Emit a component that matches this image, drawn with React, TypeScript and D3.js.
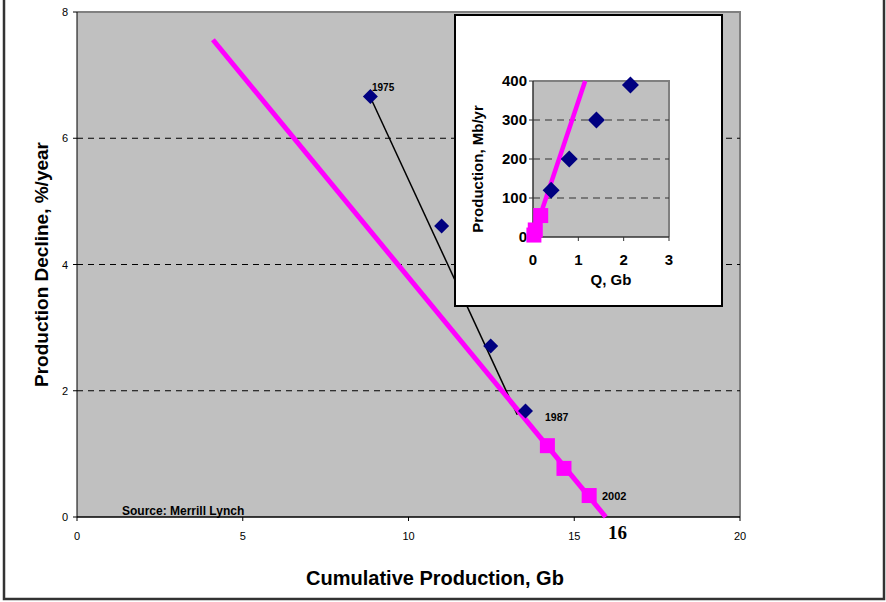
import React from 'react';
import * as d3 from 'd3';

// main chart: cumulative production (Gb) vs production decline (%/year)
const xTicks = [0, 5, 10, 15, 20];
const yTicks = [0, 2, 4, 6, 8];
const yGrid = [2, 4, 6];

const histQ = [8.85, 11.0, 12.48, 13.53];
const histDecline = [6.66, 4.61, 2.71, 1.68];
const recentQ = [14.19, 14.69, 15.45];
const recentDecline = [1.13, 0.77, 0.34];
const fitQ = [4.1, 15.95];
const fitDecline = [7.56, 0];
const trendQ = [8.85, 13.28];
const trendDecline = [6.65, 1.62];

// inset: Q (Gb) vs production (Mb/yr)
const insetXTicks = [0, 1, 2, 3];
const insetYTicks = [0, 100, 200, 300, 400];
const insetGrid = [100, 200, 300];
const insetQ = [0.4, 0.8, 1.4, 2.15];
const insetProd = [120, 200, 300, 390];
const insetSqQ = [0.02, 0.05, 0.17];
const insetSqProd = [5, 18, 55];
const insetFitQ = [0, 1.15];
const insetFitProd = [0, 400];

const NAVY = '#000080';
const MAGENTA = '#FF00FF';
const PLOT_BG = '#C0C0C0';
const FONT = '"Liberation Sans", Arial, sans-serif';

const diamond = (cx: number, cy: number, r: number) =>
  `M${cx},${cy - r}L${cx + r},${cy}L${cx},${cy + r}L${cx - r},${cy}Z`;

export default function App() {
  const width = 886;
  const height = 602;

  const x = d3.scaleLinear().domain([0, 20]).range([77, 740]);
  const y = d3.scaleLinear().domain([0, 8]).range([517, 12]);

  const ix = d3.scaleLinear().domain([0, 3]).range([533, 669]);
  const iy = d3.scaleLinear().domain([0, 400]).range([237, 81]);

  const mainLine = d3.line<[number, number]>().x(d => x(d[0])).y(d => y(d[1]));
  const insetLine = d3.line<[number, number]>().x(d => ix(d[0])).y(d => iy(d[1]));

  const fitPts = fitQ.map((q, i) => [q, fitDecline[i]] as [number, number]);
  const trendPts = trendQ.map((q, i) => [q, trendDecline[i]] as [number, number]);
  const insetFitPts = insetFitQ.map((q, i) => [q, insetFitProd[i]] as [number, number]);

  return (
    <svg
      width={width}
      height={height}
      style={{ position: 'absolute', left: 0, top: 0, background: '#fff' }}
      fontFamily={FONT}
    >
      {/* outer frame */}
      <rect x={4} y={-4} width={880} height={603} fill="#fff" stroke="#333" strokeWidth={2.5} />

      {/* main plot area */}
      <rect x={x(0)} y={y(8)} width={x(20) - x(0)} height={y(0) - y(8)} fill={PLOT_BG} />
      <path
        d={`M${x(0)},${y(8)}H${x(20)}V${y(0)}`}
        fill="none"
        stroke="#808080"
        strokeWidth={2}
      />
      {yGrid.map(v => (
        <line
          key={v}
          x1={x(0)}
          x2={x(20)}
          y1={y(v)}
          y2={y(v)}
          stroke="#000"
          strokeWidth={1}
          strokeDasharray="6,5"
        />
      ))}

      {/* axes */}
      <line x1={x(0)} x2={x(0)} y1={y(0)} y2={y(8)} stroke="#000" />
      <line x1={x(0)} x2={x(20)} y1={y(0)} y2={y(0)} stroke="#000" strokeWidth={1.5} />
      {yTicks.map(v => (
        <g key={v}>
          <line x1={x(0) - 4} x2={x(0)} y1={y(v)} y2={y(v)} stroke="#000" />
          <text x={x(0) - 9} y={y(v) + 4} fontSize={11} textAnchor="end">{v}</text>
        </g>
      ))}
      {xTicks.map(v => (
        <g key={v}>
          <line x1={x(v)} x2={x(v)} y1={y(0)} y2={y(0) + 4} stroke="#000" />
          <text x={x(v)} y={540} fontSize={11} textAnchor="middle">{v}</text>
        </g>
      ))}

      {/* trend lines */}
      <path d={mainLine(trendPts) || ''} fill="none" stroke="#000" strokeWidth={1.5} />
      <path d={mainLine(fitPts) || ''} fill="none" stroke={MAGENTA} strokeWidth={5} />

      {/* data points */}
      {histQ.map((q, i) => (
        <path key={q} d={diamond(x(q), y(histDecline[i]), 7.5)} fill={NAVY} />
      ))}
      {recentQ.map((q, i) => (
        <rect
          key={q}
          x={x(q) - 7.5}
          y={y(recentDecline[i]) - 7.5}
          width={15}
          height={15}
          fill={MAGENTA}
        />
      ))}

      {/* annotations */}
      <text x={372} y={91} fontSize={10} fontWeight="bold">1975</text>
      <text x={545} y={421} fontSize={10.5} fontWeight="bold">1987</text>
      <text x={602} y={500} fontSize={11} fontWeight="bold">2002</text>
      <text x={122} y={515} fontSize={12} fontWeight="bold">Source: Merrill Lynch</text>
      <text
        x={608}
        y={539}
        fontSize={19}
        fontWeight="bold"
        fontFamily='"Liberation Serif", "Times New Roman", serif'
      >
        16
      </text>

      {/* axis titles */}
      <text x={435} y={585} fontSize={20} fontWeight="bold" textAnchor="middle">
        Cumulative Production, Gb
      </text>
      <text
        transform={`translate(48,${(y(0) + y(8)) / 2}) rotate(-90)`}
        fontSize={19}
        fontWeight="bold"
        textAnchor="middle"
      >
        Production Decline, %/year
      </text>

      {/* inset chart */}
      <rect x={455} y={15} width={267} height={291} fill="#fff" stroke="#000" strokeWidth={2} />
      <rect x={ix(0)} y={iy(400)} width={ix(3) - ix(0)} height={iy(0) - iy(400)} fill={PLOT_BG} />
      <path
        d={`M${ix(0)},${iy(400)}H${ix(3)}V${iy(0)}`}
        fill="none"
        stroke="#808080"
        strokeWidth={2}
      />
      {insetGrid.map(v => (
        <line
          key={v}
          x1={ix(0)}
          x2={ix(3)}
          y1={iy(v)}
          y2={iy(v)}
          stroke="#333"
          strokeWidth={1.2}
          strokeDasharray="7,5"
        />
      ))}
      <line x1={ix(0)} x2={ix(0)} y1={iy(0)} y2={iy(400)} stroke="#333" strokeWidth={1.5} />
      <line x1={ix(0)} x2={ix(3)} y1={iy(0)} y2={iy(0)} stroke="#333" strokeWidth={1.5} />
      {insetYTicks.map(v => (
        <g key={v}>
          <line x1={ix(0) - 4} x2={ix(0)} y1={iy(v)} y2={iy(v)} stroke="#333" />
          <text x={ix(0) - 6} y={iy(v) + 5} fontSize={15} fontWeight="bold" textAnchor="end">
            {v}
          </text>
        </g>
      ))}
      {insetXTicks.map(v => (
        <g key={v}>
          <line x1={ix(v)} x2={ix(v)} y1={iy(0)} y2={iy(0) + 4} stroke="#333" />
          <text x={ix(v)} y={265} fontSize={15} fontWeight="bold" textAnchor="middle">{v}</text>
        </g>
      ))}
      <text x={611} y={285} fontSize={15} fontWeight="bold" textAnchor="middle">Q, Gb</text>
      <text
        transform="translate(483,169) rotate(-90)"
        fontSize={15}
        fontWeight="bold"
        textAnchor="middle"
      >
        Production, Mb/yr
      </text>

      <path d={insetLine(insetFitPts) || ''} fill="none" stroke={MAGENTA} strokeWidth={4.5} />
      {insetQ.map((q, i) => (
        <path key={q} d={diamond(ix(q), iy(insetProd[i]), 8.5)} fill={NAVY} />
      ))}
      {insetSqQ.map((q, i) => (
        <rect
          key={q}
          x={ix(q) - 7.5}
          y={iy(insetSqProd[i]) - 7.5}
          width={15}
          height={15}
          fill={MAGENTA}
        />
      ))}
    </svg>
  );
}
